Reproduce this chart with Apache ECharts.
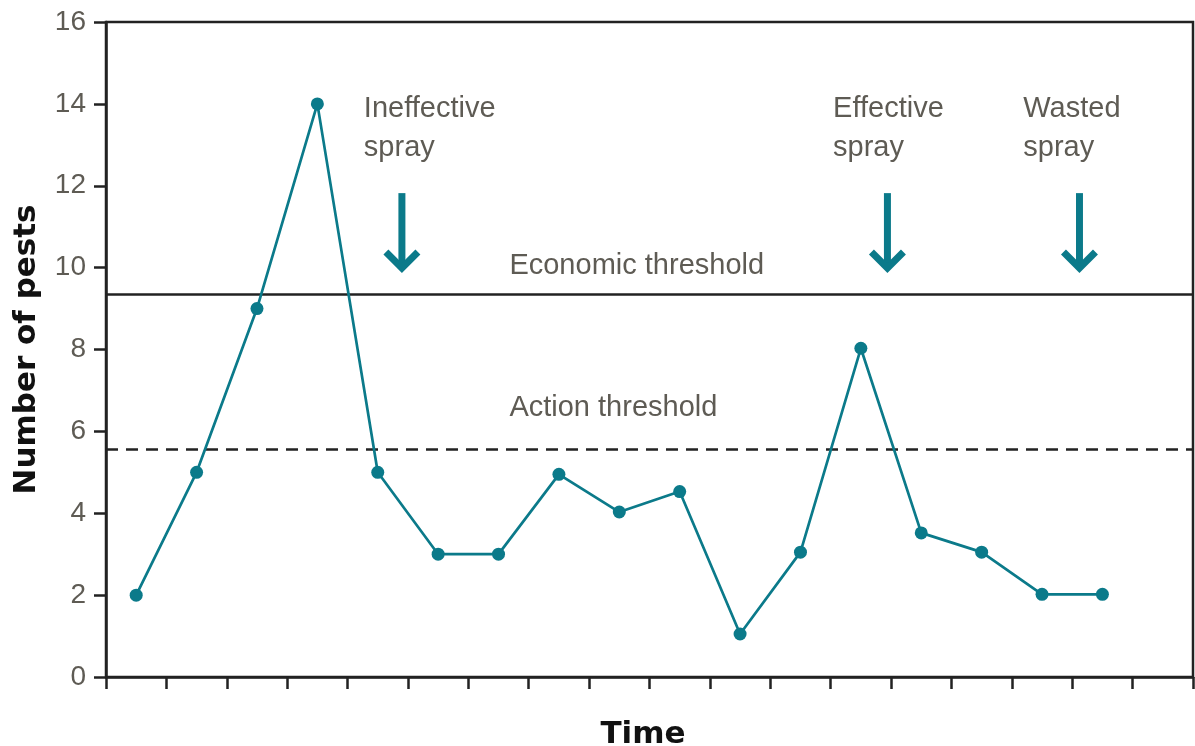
<!DOCTYPE html>
<html>
<head>
<meta charset="utf-8">
<script src="https://cdn.jsdelivr.net/npm/echarts@6/dist/echarts.min.js"></script>
<style>html,body{margin:0;padding:0;background:#fff}#c{width:1195px;height:746px}</style>
</head>
<body>
<div id="c"></div>
<script>
// ---- data ----
const timeCategories = ['t1','t2','t3','t4','t5','t6','t7','t8','t9','t10','t11','t12','t13','t14','t15','t16','t17','t18'];
const pestCounts = [2, 5, 9, 14, 5, 3, 3, 4.95, 4.03, 4.53, 1.05, 3.05, 8.03, 3.52, 3.05, 2.02, 2.02, '-'];
const yTicks = [0, 2, 4, 6, 8, 10, 12, 14, 16];
const economicThreshold = 9.35;
const actionThreshold = 5.57;
// spray arrows on a time scale 0..18 (x, top value, tip value)
const sprayArrows = [[4.9, 11.82, 9.87], [12.94, 11.82, 9.87], [16.12, 11.82, 9.87]];
// annotation texts (x, y, text)
const annotX = [4.27, 12.04, 15.19, 6.68, 6.68];
const annotY = [13.40, 13.40, 13.40, 10.04, 6.57];
const annotText = ['Ineffective\nspray', 'Effective\nspray', 'Wasted\nspray', 'Economic threshold', 'Action threshold'];

const teal = '#0b7a8a';
const grayText = '#5e5b54';
const font = "'Liberation Sans', Arial, sans-serif";
const boldFont = "'DejaVu Sans', sans-serif";

const chart = echarts.init(document.getElementById('c'), null, {renderer: 'canvas'});
chart.setOption({
  backgroundColor: '#fff',
  animation: false,
  grid: {left: 106, right: 2, top: 22, bottom: 69, show: true, borderColor: '#222', borderWidth: 2.5,
    containLabel: false, outerBoundsMode: 'none'},
  xAxis: [{
    type: 'category',
    data: timeCategories,
    boundaryGap: true,
    name: 'Time',
    nameLocation: 'middle',
    nameGap: 42,
    nameTextStyle: {fontFamily: boldFont, fontWeight: 'bold', fontSize: 31, color: '#111', padding: [0, 13, 0, 0]},
    axisLine: {lineStyle: {color: '#222', width: 2.5}},
    axisTick: {show: true, alignWithLabel: false, length: 12, lineStyle: {color: '#222', width: 2.5}},
    axisLabel: {show: false},
    splitLine: {show: false}
  }, {
    type: 'value', min: 0, max: 18, show: false
  }],
  yAxis: {
    type: 'value',
    min: 0, max: 16, interval: 2,
    name: 'Number of pests',
    nameLocation: 'middle',
    nameGap: 64,
    nameTextStyle: {fontFamily: boldFont, fontWeight: 'bold', fontSize: 31, color: '#111'},
    axisLine: {show: true, lineStyle: {color: '#222', width: 2.5}},
    axisTick: {show: true, length: 12, lineStyle: {color: '#222', width: 2.5}},
    axisLabel: {margin: 20, fontFamily: font, fontSize: 28, color: grayText,
      formatter: v => yTicks.indexOf(v) >= 0 ? String(v) : ''},
    splitLine: {show: false}
  },
  series: [{
    type: 'line',
    data: pestCounts,
    xAxisIndex: 0,
    symbol: 'circle',
    symbolSize: 13,
    lineStyle: {color: teal, width: 2.7},
    itemStyle: {color: teal},
    z: 5,
    markLine: {
      silent: true,
      symbol: 'none',
      label: {show: false},
      data: [
        {yAxis: economicThreshold, lineStyle: {color: '#222', width: 2.5, type: 'solid'}},
        {yAxis: actionThreshold, lineStyle: {color: '#222', width: 2.5, type: [12, 8]}}
      ]
    }
  }, {
    type: 'custom',
    xAxisIndex: 1,
    data: sprayArrows,
    renderItem: function (params, api) {
      const top = api.coord([api.value(0), api.value(1)]);
      const tip = api.coord([api.value(0), api.value(2)]);
      const vx = tip[0], vy = tip[1] - 5;
      return {type: 'group', children: [
        {type: 'line', shape: {x1: top[0], y1: top[1], x2: vx, y2: vy - 3}, style: {stroke: teal, lineWidth: 7}},
        {type: 'polyline', shape: {points: [[vx - 16, vy - 16], [vx, vy], [vx + 16, vy - 16]]},
          style: {stroke: teal, lineWidth: 7, fill: null, lineJoin: 'miter'}}
      ]};
    },
    z: 4
  }, {
    type: 'custom',
    xAxisIndex: 1,
    data: annotX.map((x, i) => [x, annotY[i]]),
    renderItem: function (params, api) {
      const p = api.coord([api.value(0), api.value(1)]);
      return {type: 'text', x: p[0], y: p[1], style: {
        text: annotText[params.dataIndex], fill: grayText, fontFamily: font, fontSize: 29,
        lineHeight: 39, align: 'left', verticalAlign: 'middle'
      }};
    },
    z: 4
  }]
});
</script>
</body>
</html>
